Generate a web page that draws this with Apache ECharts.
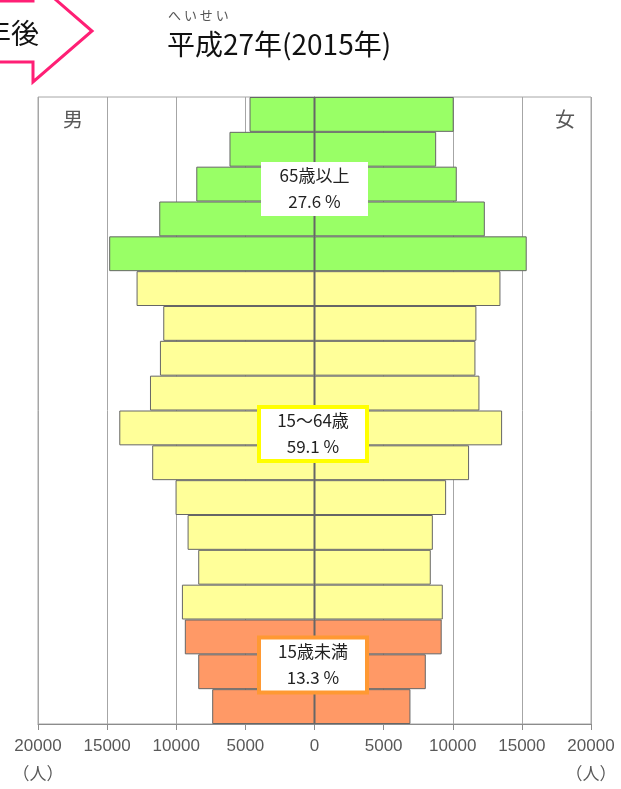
<!DOCTYPE html>
<html>
<head>
<meta charset="utf-8">
<script src="https://cdn.jsdelivr.net/npm/echarts@6/dist/echarts.min.js"></script>
<style>
html,body{margin:0;padding:0;background:#fff;}
#c{width:621px;height:789px;}
</style>
</head>
<body>
<div id="c"></div>
<script>
// Age groups, bottom (youngest) to top (oldest)
const ageGroups = ['0〜4歳','5〜9歳','10〜14歳','15〜19歳','20〜24歳','25〜29歳','30〜34歳','35〜39歳','40〜44歳','45〜49歳','50〜54歳','55〜59歳','60〜64歳','65〜69歳','70〜74歳','75〜79歳','80〜84歳','85歳以上'];
const male   = [7400, 8410, 9380, 9590, 8410, 9180, 10050, 11740, 14120, 11900, 11180, 10940, 12870, 14850, 11230, 8550, 6150, 4700];
const female = [6940, 8050, 9200, 9280, 8410, 8560, 9520, 11180, 13570, 11930, 11640, 11710, 13450, 15350, 12320, 10290, 8800, 10070];
const groupOf = ['young','young','young','work','work','work','work','work','work','work','work','work','work','old','old','old','old','old'];
const groupColors = {young:'#ff9966', work:'#ffff99', old:'#99ff66'};
const xTicks = [-20000,-15000,-10000,-5000,0,5000,10000,15000,20000];
const groupLabels = [
  {name:'65歳以上', pct:'27.6 %'},
  {name:'15〜64歳', pct:'59.1 %'},
  {name:'15歳未満', pct:'13.3 %'}
];
const titleText = '平成27年(2015年)';
const rubyText = 'へ い せ い';

const chart = echarts.init(document.getElementById('c'), null, {renderer:'canvas'});
const FONT = '"Noto Sans CJK JP", "Noto Sans", sans-serif';
const NUMFONT = '"Liberation Sans", Arial, sans-serif';

function mk(vals, sign){
  return vals.map((v,i)=>({value: sign*v, itemStyle:{color: groupColors[groupOf[i]]}}));
}

function box(cx, cy, w, h, stroke, lbl){
  return {
    type:'group', z:100,
    children:[
      {type:'rect', shape:{x:cx-w/2, y:cy-h/2, width:w, height:h},
       style:{fill:'#fff', stroke: stroke || null, lineWidth: stroke?4:0}, z:100},
      {type:'text', x:cx, y:cy, z:101,
       style:{text: lbl.name + '\n' + lbl.pct, align:'center', verticalAlign:'middle',
              font:'17px ' + FONT, fill:'#222', lineHeight:26}}
    ]
  };
}

const option = {
  animation:false,
  grid:{left:38, right:30, top:97, bottom:65, show:true, borderColor:'#a6a6a6', borderWidth:1},
  xAxis:{
    type:'value', min:-20000, max:20000, interval:5000,
    axisLine:{show:true, lineStyle:{color:'#8c8c8c', width:1}},
    axisTick:{show:true, length:6, lineStyle:{color:'#8c8c8c'}},
    axisLabel:{color:'#595959', fontSize:17, fontFamily:NUMFONT, margin:14,
               formatter:(v)=>String(Math.abs(v))},
    splitLine:{show:true, lineStyle:{color:'#a6a6a6', width:1}}
  },
  yAxis:{
    type:'category', data:ageGroups, z:5,
    axisLine:{show:true, onZero:true, lineStyle:{color:'#666', width:1}},
    axisTick:{show:false}, axisLabel:{show:false}, splitLine:{show:false}
  },
  series:[
    {name:'男', type:'bar', stack:'p', data:mk(male,-1), barCategoryGap:0,
     itemStyle:{borderColor:'#666', borderWidth:1}},
    {name:'女', type:'bar', stack:'p', data:mk(female,1), barCategoryGap:0,
     itemStyle:{borderColor:'#666', borderWidth:1}}
  ],
  graphic:[
    // arrow from previous panel
    {type:'polygon', z:50, shape:{points:[[-10,1],[33,1],[33,-20],[92,31],[33,82],[33,62],[-10,62]]},
     style:{fill:'#fff', stroke:'#ff1f75', lineWidth:3}},
    {type:'text', x:39, y:33, z:51, style:{text:'年後', align:'right', verticalAlign:'middle', font:'28px ' + FONT, fill:'#111'}},
    // title
    {type:'text', x:167, y:44, z:51, style:{text:titleText, align:'left', verticalAlign:'middle', font:'28px ' + FONT, fill:'#111'}},
    {type:'text', x:168, y:15, z:51, style:{text:rubyText, align:'left', verticalAlign:'middle', font:'13px ' + FONT, fill:'#555'}},
    // gender labels
    {type:'text', x:73, y:119, z:51, style:{text:'男', align:'center', verticalAlign:'middle', font:'20px ' + FONT, fill:'#595959'}},
    {type:'text', x:565, y:119, z:51, style:{text:'女', align:'center', verticalAlign:'middle', font:'20px ' + FONT, fill:'#595959'}},
    // units
    {type:'text', x:38, y:774, z:51, style:{text:'（人）', align:'center', verticalAlign:'middle', font:'17px ' + FONT, fill:'#595959'}},
    {type:'text', x:591, y:774, z:51, style:{text:'（人）', align:'center', verticalAlign:'middle', font:'17px ' + FONT, fill:'#595959'}},
    // group boxes
    box(314.5, 189, 107, 54, null, groupLabels[0]),
    box(313, 434, 108, 54, '#ffff00', groupLabels[1]),
    box(313, 665, 108, 55, '#ff9933', groupLabels[2])
  ]
};
chart.setOption(option);
</script>
</body>
</html>
